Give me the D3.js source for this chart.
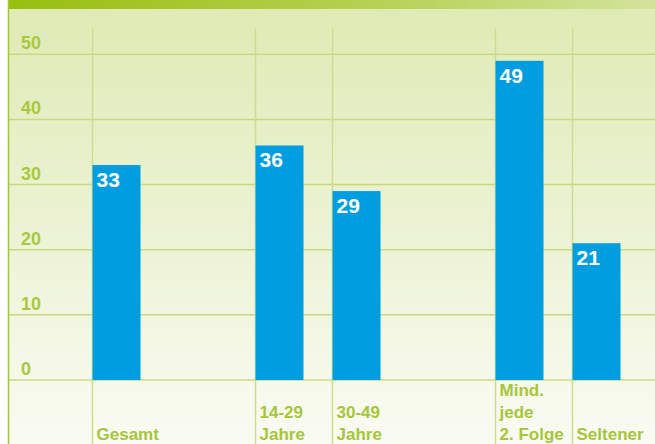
<!DOCTYPE html>
<html>
<head>
<meta charset="utf-8">
<script src="https://cdn.jsdelivr.net/npm/d3@7"></script>
<style>
  html, body { margin: 0; padding: 0; background: #ffffff; }
  svg { display: block; }
  text { font-family: "Liberation Sans", Arial, Helvetica, sans-serif; font-weight: bold; }
</style>
</head>
<body>
<svg id="chart" width="655" height="444"></svg>
<script>
// Share of viewers (%) by group
const categories = ["Gesamt", "14-29 Jahre", "30-49 Jahre", "Mind. jede 2. Folge", "Seltener"];
const labelLines = [["Gesamt"], ["14-29", "Jahre"], ["30-49", "Jahre"], ["Mind.", "jede", "2. Folge"], ["Seltener"]];
const groups = [0, 1, 1, 2, 2];
const values = [33, 36, 29, 49, 21];
const yTicks = [0, 10, 20, 30, 40, 50];

const W = 655, H = 444;
const svg = d3.select("#chart");
const defs = svg.append("defs");

// Header band and panel background gradients
const topGrad = defs.append("linearGradient").attr("id", "topGrad")
  .attr("x1", "0%").attr("x2", "100%").attr("y1", "0%").attr("y2", "0%");
topGrad.append("stop").attr("offset", "0%").attr("stop-color", "#97bf0f");
topGrad.append("stop").attr("offset", "55%").attr("stop-color", "#b5d150");
topGrad.append("stop").attr("offset", "100%").attr("stop-color", "#d3e39c");

const bgGrad = defs.append("linearGradient").attr("id", "bgGrad")
  .attr("x1", "0%").attr("x2", "0%").attr("y1", "0%").attr("y2", "100%");
bgGrad.append("stop").attr("offset", "0%").attr("stop-color", "#dfeab4");
bgGrad.append("stop").attr("offset", "55%").attr("stop-color", "#edf3d6");
bgGrad.append("stop").attr("offset", "100%").attr("stop-color", "#fafbf3");

const panelX = 9;
svg.append("rect").attr("x", panelX).attr("y", 0).attr("width", W - panelX).attr("height", H)
  .attr("fill", "url(#bgGrad)");
svg.append("rect").attr("x", panelX - 1).attr("y", 0).attr("width", W - panelX + 1).attr("height", 9)
  .attr("fill", "url(#topGrad)");

// Scales
const y = d3.scaleLinear().domain([0, 50]).range([380, 54.3]);
const GAP = 86 / 77;             // extra space between groups, in column units
const slot = (i) => i + groups[i] * GAP;
const x = d3.scaleLinear().domain([0, 1]).range([92.5, 169.5]);
const barW = 48;

// Horizontal gridlines
svg.append("g").selectAll("line").data(yTicks).join("line")
  .attr("x1", panelX).attr("x2", W)
  .attr("y1", d => y(d)).attr("y2", d => y(d))
  .attr("stroke", "#c6db80").attr("stroke-width", 1.5);

// Vertical column lines
svg.append("g").selectAll("line").data(categories).join("line")
  .attr("x1", (d, i) => x(slot(i))).attr("x2", (d, i) => x(slot(i)))
  .attr("y1", 28).attr("y2", H)
  .attr("stroke", "#cadd90").attr("stroke-width", 1.5);

// Left border line
svg.append("line").attr("x1", panelX - 0.5).attr("x2", panelX - 0.5).attr("y1", 0).attr("y2", H)
  .attr("stroke", "#a3c53a").attr("stroke-width", 1.5);

// Y tick labels
svg.append("g").selectAll("text").data(yTicks).join("text")
  .attr("x", 21).attr("y", d => y(d) - 5)
  .attr("font-size", 18).attr("fill", "#a8c93f")
  .text(d => d);

// Bars
svg.append("g").selectAll("rect").data(values).join("rect")
  .attr("x", (d, i) => x(slot(i)))
  .attr("y", d => y(d))
  .attr("width", barW)
  .attr("height", d => y(0) - y(d))
  .attr("fill", "#009ee0");

// Value labels inside bars
svg.append("g").selectAll("text").data(values).join("text")
  .attr("x", (d, i) => x(slot(i)) + 4)
  .attr("y", d => y(d) + 22)
  .attr("font-size", 21).attr("fill", "#ffffff")
  .text(d => d);

// Category labels, bottom-aligned
const lineH = 22;
const lastBaseline = 440;
const cat = svg.append("g").selectAll("text").data(categories).join("text")
  .attr("font-size", 17).attr("fill", "#a6c63a");
cat.each(function (d, i) {
  const lines = labelLines[i];
  d3.select(this).selectAll("tspan").data(lines).join("tspan")
    .attr("x", x(slot(i)) + 4)
    .attr("y", (l, k) => lastBaseline - (lines.length - 1 - k) * lineH)
    .text(l => l);
});
</script>
</body>
</html>
